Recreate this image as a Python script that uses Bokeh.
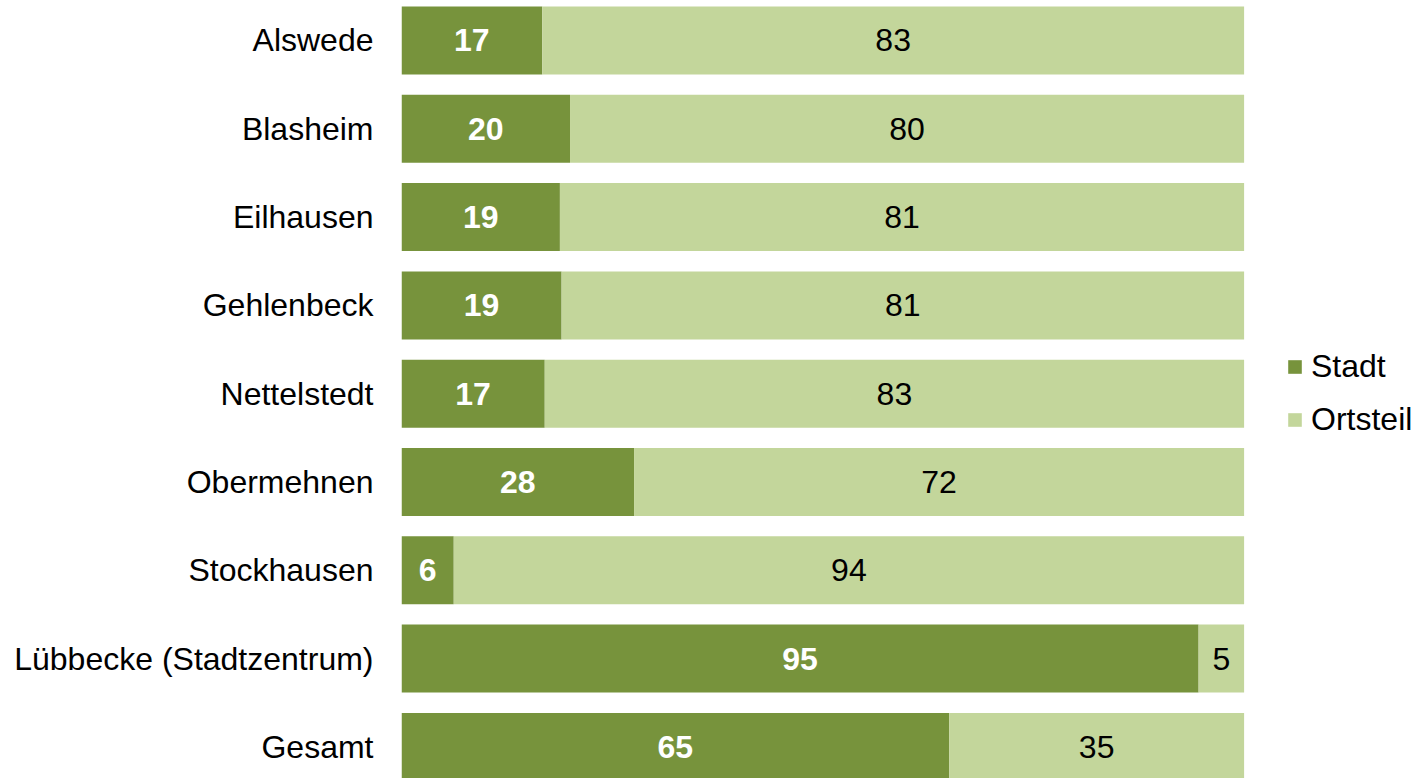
from bokeh.plotting import figure
from bokeh.models import Range1d, FixedTicker, ColumnDataSource, Legend, LegendItem
from bokeh.core.properties import value
from bokeh.embed import file_html
from bokeh.resources import INLINE

categories = ["Alswede", "Blasheim", "Eilhausen", "Gehlenbeck", "Nettelstedt",
              "Obermehnen", "Stockhausen", "Lübbecke (Stadtzentrum)", "Gesamt"]
stadt = [16.7, 20.0, 18.8, 19.0, 17.0, 27.6, 6.2, 94.6, 65.0]
ortsteil = [83.3, 80.0, 81.2, 81.0, 83.0, 72.4, 93.8, 5.4, 35.0]
stadt_labels = ["17", "20", "19", "19", "17", "28", "6", "95", "65"]
ortsteil_labels = ["83", "80", "81", "81", "83", "72", "94", "5", "35"]

DARK = "#77933C"
LIGHT = "#C3D69B"
FONT = "Liberation Sans"
FS = "32px"

n = len(categories)
ypos = [n - 0.5 - i for i in range(n)]

src = ColumnDataSource(dict(
    y=ypos,
    stadt=stadt,
    ortsteil=ortsteil,
    total=[s + o for s, o in zip(stadt, ortsteil)],
    stadt_mid=[s / 2 for s in stadt],
    ort_mid=[s + o / 2 for s, o in zip(stadt, ortsteil)],
    sl=stadt_labels,
    ol=ortsteil_labels,
))

W, H = 1414, 778
frame_left = 401
frame_w = W - frame_left
x_end = 100 * frame_w / 842.6

p = figure(width=W, height=H, output_backend="svg", toolbar_location=None,
           x_range=Range1d(0, x_end), y_range=Range1d(0.142, 8.953),
           x_axis_location=None, min_border_left=frame_left, min_border_right=0,
           min_border_top=0, min_border_bottom=0, outline_line_color=None)
p.grid.visible = False

r1 = p.hbar(y="y", left=0, right="stadt", height=0.77, source=src,
            fill_color=DARK, line_color=None)
r2 = p.hbar(y="y", left="stadt", right="total", height=0.77, source=src,
            fill_color=LIGHT, line_color=None)

p.text(x="stadt_mid", y="y", text="sl", source=src, text_color="white",
       text_font=value(FONT), text_font_size=FS, text_font_style="bold",
       text_align="center", text_baseline="middle")
p.text(x="ort_mid", y="y", text="ol", source=src, text_color="black",
       text_font=value(FONT), text_font_size=FS,
       text_align="center", text_baseline="middle")

ax = p.yaxis[0]
ax.ticker = FixedTicker(ticks=ypos)
ax.major_label_overrides = {y: c for y, c in zip(ypos, categories)}
ax.axis_line_color = None
ax.major_tick_line_color = None
ax.minor_tick_line_color = None
ax.major_tick_in = 0
ax.major_tick_out = 0
ax.major_label_standoff = 28
ax.major_label_text_font = FONT
ax.major_label_text_font_size = FS
ax.major_label_text_color = "black"

legend = Legend(items=[LegendItem(label="Stadt", renderers=[r1]),
                       LegendItem(label="Ortsteil", renderers=[r2])],
                location=(885, 340), orientation="vertical",
                glyph_width=17, glyph_height=17, label_height=36,
                spacing=16, padding=0, margin=0, label_standoff=8,
                label_text_font=FONT, label_text_font_size=FS,
                label_text_color="black", border_line_color=None,
                background_fill_alpha=0)
p.add_layout(legend)

open("out.html", "w").write(file_html(p, INLINE))
